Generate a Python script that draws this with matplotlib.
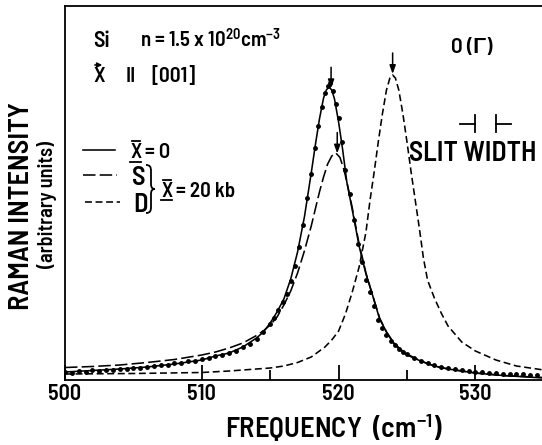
import numpy as np
import matplotlib
matplotlib.use('Agg')
import matplotlib.pyplot as plt
from matplotlib.lines import Line2D
from matplotlib.patches import FancyArrowPatch, PathPatch
from matplotlib.path import Path

FONT = ['Barlow Semi Condensed', 'Barlow Condensed', 'Liberation Sans', 'DejaVu Sans']
WT = 600
plt.rcParams['font.family'] = FONT
plt.rcParams['font.weight'] = WT
plt.rcParams['mathtext.fontset'] = 'custom'
plt.rcParams['mathtext.rm'] = 'Barlow Semi Condensed:semibold'
plt.rcParams['mathtext.it'] = 'Barlow Semi Condensed:semibold'
plt.rcParams['mathtext.bf'] = 'Barlow Semi Condensed:semibold'
plt.rcParams['lines.scale_dashes'] = False

# ---------------- data ----------------
# X = 0, fitted curve (solid)
solid_x = [500, 502, 504, 506, 508, 510, 511, 512, 513, 514, 514.5, 515, 515.5, 516,
           516.5, 517, 517.5, 518, 518.3, 518.6, 518.9, 519.1, 519.3, 519.5, 519.7,
           520, 520.3, 520.6, 521, 521.5, 522, 522.5, 523, 523.5, 524, 524.5, 525,
           526, 527, 528, 530, 532, 535]
solid_y = [8, 9.5, 11, 13, 16, 20, 24, 27, 33, 42, 48, 57, 68, 81,
           101, 128, 163, 207, 235, 261, 282, 290, 293, 290, 281,
           258, 230, 198, 170, 134, 106, 84, 61, 48, 37, 30, 25,
           19, 14, 11, 7, 4.5, 2]

# X = 20 kb, singlet S (long dashes)
s_x = [500, 502, 504, 506, 508, 510, 511, 512, 513, 514, 514.5, 515, 515.5, 516,
       516.5, 517, 517.5, 518, 518.3, 518.6, 518.9, 519.2, 519.5, 519.8, 520.1,
       520.4, 520.7, 521, 521.5, 522, 522.5, 523, 523.5, 524, 524.5, 525, 526,
       527, 528, 530, 532, 535]
s_y = [12.5, 13.5, 15, 17.5, 20.5, 25, 28, 32, 37, 44.5, 49, 55, 63, 75,
       89, 107, 129, 154, 171, 188, 203, 216, 224, 227, 222.5,
       210, 192, 172, 136, 107, 84, 62, 48, 38, 31, 26, 19,
       14, 11, 7, 4.5, 2.5]

# X = 20 kb, doublet D (short dashes)
d_x = [500, 505, 510, 512, 514, 515, 516, 517, 518, 518.5, 519, 519.5, 520, 520.5,
       521, 521.5, 522, 522.3, 522.6, 522.9, 523.2, 523.5, 523.75, 523.95, 524.15,
       524.4, 524.7, 525, 525.3, 525.6, 525.9, 526.2, 526.5, 527, 527.5, 528, 529,
       530, 531.5, 533, 535]
d_y = [6, 6.5, 7.5, 9, 11, 12, 14, 17.5, 23, 28, 33, 40, 49, 66,
       88, 113, 148, 180, 208, 238, 266, 290, 302, 305, 302,
       290, 266, 238, 208, 180, 152, 122, 100, 82, 67, 54, 38,
       29, 20, 14, 10]

# measured points (X = 0)
dots_x = [500.0, 500.5, 501.0, 501.5, 502.0, 502.5, 503.0, 503.5, 504.0, 504.5,
          505.0, 505.5, 506.0, 506.5, 507.0, 507.5, 508.0, 508.5, 509.0, 509.5,
          510.0, 510.5, 511.0, 511.5, 512.0, 512.5, 513.0, 513.5, 514.0, 514.5,
          515.0, 515.3, 515.6, 515.9, 516.2, 516.5, 516.8, 517.1, 517.4, 517.7,
          518.0, 518.25, 518.5, 518.75, 519.0, 519.2, 519.4, 519.6, 519.8, 520.0,
          520.25, 520.5, 520.8, 521.1, 521.4, 521.7, 522.0, 522.3, 522.6, 522.9,
          523.2, 523.5, 523.8, 524.1, 524.4, 524.7, 525.0, 525.5, 526.0, 526.5,
          527.0, 527.5, 528.0, 528.5, 529.0, 529.5, 530.0, 530.5, 531.0, 531.5,
          532.0, 532.5, 533.0, 533.5, 534.0, 534.5]
dots_y = [8.5, 7.5, 9, 8, 10, 9, 10.5, 10, 11.5, 11,
          12.5, 12, 13.5, 14, 15, 15.5, 17, 17.5, 19, 19.5,
          21, 22, 24, 25, 27.5, 29.5, 33, 36, 41, 48,
          56, 62, 70, 78, 86, 99, 114, 133, 155, 182,
          206, 232, 254, 273, 287, 294, 297, 289, 276, 262,
          238, 210, 186, 160, 136, 118, 100, 88, 74, 60,
          52, 45, 39, 35, 31, 28.5, 26, 22, 19.5, 17,
          15, 13.5, 12, 11, 10, 9, 8.5, 8, 7.5, 7,
          6.5, 6.5, 6, 6, 5.5, 5.5]

peak_arrows = [519.45, 519.9, 523.95]   # positions of the arrows
x_ticks = [500, 510, 520, 530]
x_minor = [515, 525]
slit = [530.0, 531.5]

# ---------------- figure ----------------
W, H = 542, 445
fig = plt.figure(figsize=(W / 100, H / 100), dpi=100)


def fx(x):
    return x / W


def fy(y):
    return 1 - y / H


ax = fig.add_axes([fx(65), fy(380), 477 / W, 374 / H])
ax.set_xlim(500, 500 + 477 / 13.68)
ax.set_ylim(0, 374)

LW = 1.15
S_DASH = (9, 3)
D_DASH = (5, 2.6)

ax.plot(solid_x, solid_y, color='k', lw=LW)
ax.plot(s_x, s_y, color='k', lw=LW, linestyle=(0, S_DASH))
ax.plot(d_x, d_y, color='k', lw=LW, linestyle=(0, D_DASH))
ax.plot(dots_x, dots_y, linestyle='none', marker='o', ms=2.5, color='k')

curves = [(solid_x, solid_y), (s_x, s_y), (d_x, d_y)]
for pos, (cx, cy) in zip(peak_arrows, curves):
    ytip = float(np.interp(pos, cx, cy))
    ax.annotate('', xy=(pos, ytip + 1), xytext=(pos, ytip + 22),
                arrowprops=dict(arrowstyle='-|>,head_length=0.5,head_width=0.18',
                                color='k', lw=1.1, shrinkA=0, shrinkB=0))

for side in ['left', 'top', 'bottom']:
    ax.spines[side].set_linewidth(1.3)
ax.spines['right'].set_visible(False)
ax.set_xticks(x_ticks)
ax.set_xticks(x_minor, minor=True)
ax.set_yticks([])
ax.tick_params(axis='x', which='major', direction='in', length=11, width=1.3,
               labelsize=16, pad=3)
ax.tick_params(axis='x', which='minor', direction='in', length=7, width=1.3)
for lab in ax.get_xticklabels():
    lab.set_fontweight(WT)

# slit width marker (data coords)
ax.plot([slit[0] - 1.1, slit[0]], [256, 256], color='k', lw=1.3)
ax.plot([slit[0], slit[0]], [248, 265], color='k', lw=1.3)
ax.plot([slit[1], slit[1]], [248, 265], color='k', lw=1.3)
ax.plot([slit[1], slit[1] + 1.1], [256, 256], color='k', lw=1.3)

# ---------------- texts ----------------
fig.text(fx(22), fy(206), "RAMAN INTENSITY", rotation=90, ha='center', va='center',
         fontsize=20.5)
fig.text(fx(47), fy(204), "(arbitrary units)", rotation=90, ha='center', va='center',
         fontsize=14.5)
fig.text(fx(334), fy(428), r"FREQUENCY  (cm$^{-1}$)", ha='center', va='center',
         fontsize=20.5)

fig.text(fx(93), fy(47), "Si", fontsize=16, va='baseline')
fig.text(fx(140), fy(47), r"n = 1.5 x 10$^{20}$cm$^{-3}$", fontsize=15, va='baseline')

fig.text(fx(93), fy(82), "X", fontsize=15.5, va='baseline')
fig.add_artist(FancyArrowPatch((fx(92), fy(65)), (fx(105), fy(65)),
                               transform=fig.transFigure, arrowstyle='-|>',
                               mutation_scale=7, lw=1.1, color='k'))
fig.text(fx(126), fy(82), "II", fontsize=15, va='baseline')
fig.text(fx(151), fy(82), "[001]", fontsize=15.5, va='baseline')

fig.text(fx(451), fy(53), "O (Γ)", fontsize=15.5, va='baseline')
fig.text(fx(409), fy(161), "SLIT WIDTH", fontsize=20, va='baseline')


def line_fig(x0, x1, y, **kw):
    fig.add_artist(Line2D([fx(x0), fx(x1)], [fy(y), fy(y)],
                          transform=fig.transFigure, color='k', **kw))


def xbar(x, base):
    fig.text(fx(x), fy(base), "X", fontsize=15, va='baseline')
    line_fig(x + 1.5, x + 9.5, base - 17.5, lw=1.3)
    line_fig(x, x + 11, base + 3.5, lw=1.3)


# legend
line_fig(83, 115, 150, lw=LW)
xbar(130, 158)
fig.text(fx(145), fy(158), "= O", fontsize=15, va='baseline')

line_fig(83, 117, 175, lw=LW, linestyle=(0, S_DASH))
line_fig(85, 120, 202, lw=LW, linestyle=(0, D_DASH))
fig.text(fx(132), fy(185), "S", fontsize=19, va='baseline')
fig.text(fx(133), fy(212), "D", fontsize=19, va='baseline')

brace = [(146, 165), (150, 165), (151, 167), (151, 171), (151, 184),
         (151, 187), (152, 189), (155, 189), (152, 189), (151, 191), (151, 194),
         (151, 207), (151, 211), (150, 213), (146, 213)]
codes = [Path.MOVETO, Path.CURVE4, Path.CURVE4, Path.CURVE4, Path.LINETO,
         Path.CURVE4, Path.CURVE4, Path.CURVE4, Path.CURVE4, Path.CURVE4, Path.CURVE4,
         Path.LINETO, Path.CURVE4, Path.CURVE4, Path.CURVE4]
bpath = Path([(fx(a), fy(b)) for a, b in brace], codes)
fig.add_artist(PathPatch(bpath, transform=fig.transFigure, fill=False, lw=1.3,
                         color='k'))

xbar(161, 197)
fig.text(fx(176), fy(197), "= 20 kb", fontsize=15, va='baseline')

fig.savefig('out.png', dpi=100)
